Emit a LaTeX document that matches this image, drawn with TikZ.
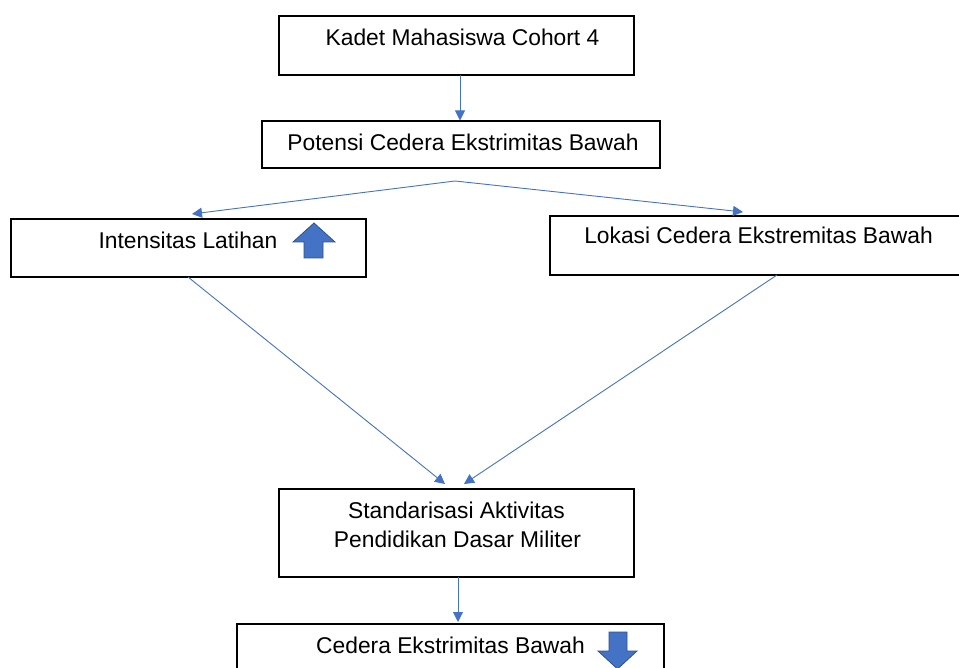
\documentclass[tikz,border=0pt]{standalone}
\usepackage{fontspec}
\setmainfont{Liberation Sans}
\usetikzlibrary{arrows.meta}
\definecolor{conn}{HTML}{4472C4}
\definecolor{iconfill}{HTML}{4472C4}
\definecolor{iconline}{HTML}{2F528F}
\begin{document}
\begin{tikzpicture}[x=1pt,y=-1pt,
  boxstyle/.style={draw=black,line width=1.1pt,fill=white,inner sep=0pt,outer sep=0pt},
  txt/.style={font=\fontsize{22.8}{27}\selectfont,inner sep=0pt,anchor=center},
  conn/.style={draw=conn,line width=0.9pt,-{Triangle[length=10pt,width=10pt]}},
  icon/.style={fill=iconfill,draw=iconline,line width=0.8pt,line join=miter}]
\useasboundingbox (0,0) rectangle (959,668);
\clip (0,0) rectangle (959,668);
% boxes
\node[boxstyle,minimum width=355pt,minimum height=59pt] (b1) at (456.5,45.5) {};
\node[boxstyle,minimum width=398pt,minimum height=47pt] (b2) at (461,144.5) {};
\node[boxstyle,minimum width=355pt,minimum height=58pt] (b3) at (188.5,248) {};
\node[boxstyle,minimum width=420pt,minimum height=59pt] (b4) at (760,245.5) {};
\node[boxstyle,minimum width=355pt,minimum height=88pt] (b5) at (456.5,533) {};
\node[boxstyle,minimum width=427pt,minimum height=80pt] (b6) at (450.5,664) {};
% texts
\node[txt] (t1) at (462.5,37) {Kadet Mahasiswa Cohort 4};
\node[txt] (t2) at (463,142.5) {Potensi Cedera Ekstrimitas Bawah};
\node[txt] (t3) at (188,240.5) {Intensitas Latihan};
\node[txt] (t4) at (758.5,235.5) {Lokasi Cedera Ekstremitas Bawah};
\node[txt] (t5a) at (456.5,510.5) {Standarisasi Aktivitas};
\node[txt] (t5b) at (457.5,539) {Pendidikan Dasar Militer};
\node[txt] (t6) at (450.5,645) {Cedera Ekstrimitas Bawah};
% icons
\draw[icon] (314,223) -- (335,242) -- (323,242) -- (323,258) -- (304,258) -- (304,242) -- (293,242) -- cycle;
\draw[icon] (609,632) -- (627,632) -- (627,651) -- (637,651) -- (617.5,669) -- (598,651) -- (609,651) -- cycle;
% connectors
\coordinate (apex) at (455,181);
\draw[conn] ([xshift=3.5pt]b1.south) -- ([xshift=-1pt,yshift=0.5pt]b2.north);
\draw[conn] (apex) -- ([xshift=3.5pt,yshift=5pt]b3.north);
\draw[conn] (apex) -- ([xshift=-17pt,yshift=4pt]b4.north);
\draw[conn] ([xshift=-0.5pt]b3.south) -- ([xshift=-11.5pt,yshift=5pt]b5.north);
\draw[conn] ([xshift=17pt]b4.south) -- ([xshift=7.5pt,yshift=5pt]b5.north);
\draw[conn] ([xshift=1.5pt]b5.south) -- ([xshift=7.5pt,yshift=2pt]b6.north);
\end{tikzpicture}
\end{document}
